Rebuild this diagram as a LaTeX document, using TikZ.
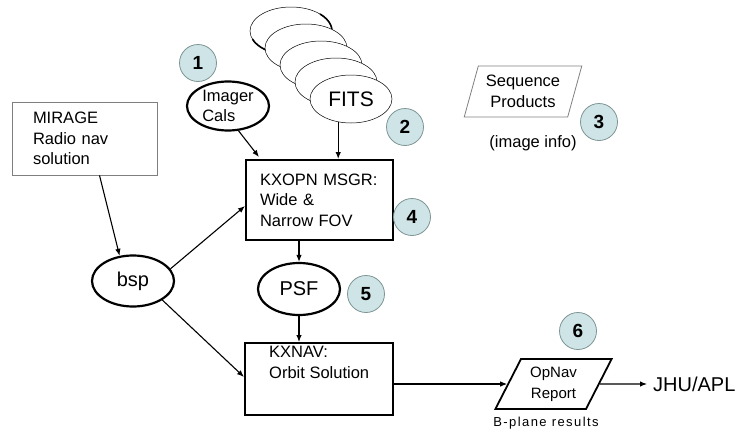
\documentclass[tikz,border=0pt]{standalone}
\usepackage{fontspec}
\setmainfont{Liberation Sans}
\usetikzlibrary{arrows.meta,shapes.geometric}
\definecolor{badgefill}{HTML}{CFE4E6}
\definecolor{badgeedge}{HTML}{7E9595}
\definecolor{thingray}{HTML}{7F7F7F}

\begin{document}
\begin{tikzpicture}[x=1pt,y=-1pt,
  every node/.style={font=\fontsize{16.5}{20.5}\selectfont},
  link/.style={line width=1.1pt,-{Latex[length=7pt,width=5.5pt]}},
  badge/.style={circle,fill=badgefill,draw=badgeedge,line width=0.8pt,
    minimum size=37pt,inner sep=0pt,font=\fontsize{19}{19}\selectfont\bfseries},
  datum/.style={ellipse,draw,line width=2.2pt,inner sep=0pt,align=left},
  procbox/.style={rectangle,draw,line width=2pt},
  notebox/.style={rectangle,draw=thingray,line width=0.8pt},
  fitsleaf/.style={ellipse,draw,line width=0.5pt,fill=white,
    minimum width=82pt,minimum height=48pt,inner sep=0pt},
  slant/.style={trapezium,trapezium stretches=true,inner sep=0pt}
]
\useasboundingbox (0,0) rectangle (753,434);

% external navigation input
\node[notebox,minimum width=145pt,minimum height=73pt,inner xsep=21pt,
      text width=103pt,align=left] (mirage) at (84.5,138.5)
  {MIRAGE\\Radio nav\\solution};
\node[datum,minimum width=82pt,minimum height=51pt,
      font=\fontsize{20}{20}\selectfont] (bsp) at (133,281) {bsp};

% calibration input
\node[datum,minimum width=82pt,minimum height=49pt] (cals) at (228,106)
  {Imager\\Cals};

% stack of FITS images, back to front
\node[fitsleaf] (fitsA) at (291,31) {};
\draw[line width=1.6pt] (291,31) ++(200:41pt and 24pt)
  arc[start angle=200,end angle=262,x radius=41pt,y radius=24pt];
\draw[line width=1.6pt] (291,31) ++(-15:41pt and 24pt)
  arc[start angle=-15,end angle=45,x radius=41pt,y radius=24pt];
\node[fitsleaf] (fitsB) at (306,48) {};
\node[fitsleaf] (fitsC) at (321,65) {};
\node[fitsleaf] (fitsD) at (336,82) {};
\node[fitsleaf,font=\fontsize{21}{21}\selectfont] (fits) at (351,99) {FITS};

% sequence products
\node[slant,trapezium left angle=70,trapezium right angle=110,
      draw=thingray,line width=0.8pt,minimum width=118pt,
      minimum height=51pt,align=center] (seq) at (523,91.5)
  {Sequence\\Products};
\node (seqinfo) at (533,143) {(image info)};

% processing steps
\node[procbox,minimum width=147pt,minimum height=80pt,inner xsep=14pt,
      text width=119pt,align=left] (kxopn) at (319.5,200)
  {KXOPN MSGR:\\Wide \&\\Narrow FOV};
\node[datum,minimum width=82pt,minimum height=52pt,
      font=\fontsize{20}{20}\selectfont] (psf) at (299,289) {PSF};
\node[procbox,minimum width=148pt,minimum height=72pt] (kxnav) at (319,379) {};
\node[anchor=north west,inner sep=0pt,align=left] (kxnavtxt) at (269,346)
  {KXNAV:\\Orbit Solution};

% report
\node[slant,trapezium left angle=62,trapezium right angle=118,
      draw,line width=1.8pt,minimum width=117pt,minimum height=50pt,
      align=center,font=\fontsize{15}{21}\selectfont] (opnav) at (553.5,384)
  {OpNav\\Report};
\node[font=\fontsize{13}{13}\addfontfeatures{LetterSpace=11}] (bplane)
  at (546,423) {B-plane results};
\node[anchor=west,inner xsep=6pt,font=\fontsize{20}{20}\selectfont] (jhu)
  at (647,384) {JHU/APL};

% numbered badges
\node[badge] (n1) at (198,63) {1};
\node[badge] (n2) at (405,127) {2};
\node[badge] (n3) at (599,122) {3};
\node[badge] (n4) at (412,217) {4};
\node[badge] (n5) at (366,294) {5};
\node[badge] (n6) at (578,331) {6};

% connectors
\draw[link] ([xshift=15pt]mirage.south) -- (bsp.118);
\draw[link] (bsp.18) -- ([yshift=-6pt]kxopn.west);
\draw[link] (bsp.327) -- ([yshift=2pt]kxnav.west);
\draw[link] (cals.293) -- ([xshift=14pt,yshift=2pt]kxopn.north west);
\draw[link] (fits.241) -- (fits.241 |- kxopn.north);
\draw[link] (psf.north |- kxopn.south) -- (psf.north);
\draw[link] (psf.south) -- (psf.south |- kxnav.north);
\draw[link] (kxnav.east |- opnav.west) -- (opnav.west);
\draw[link] (opnav.east) -- (jhu.west);
\end{tikzpicture}
\end{document}
